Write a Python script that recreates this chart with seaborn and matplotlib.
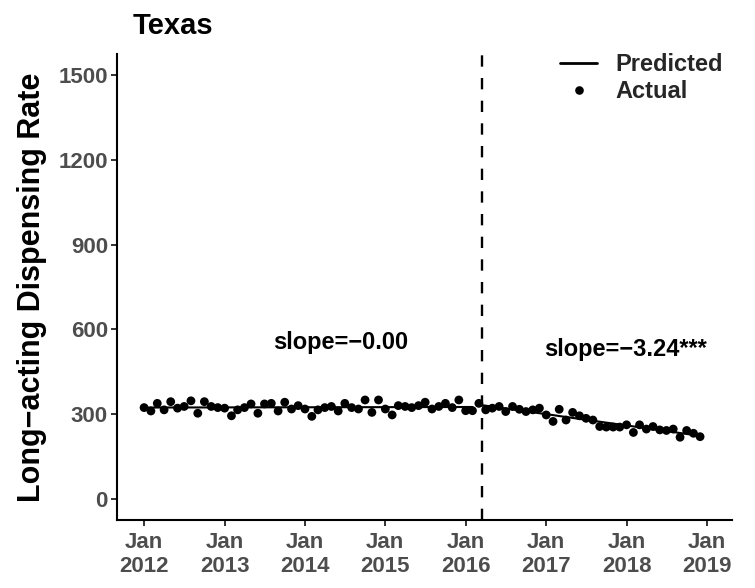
import numpy as np
import pandas as pd
import matplotlib
matplotlib.use("Agg")
import matplotlib.pyplot as plt
import seaborn as sns
from matplotlib.lines import Line2D

# ---------------- data ----------------
state_name = "Texas"
start_month = "2012-01-01"
intervention_date = "2016-03-15"

# monthly actual rates, Jan 2012 - Feb 2016 (pre) and Mar 2016 - Dec 2018 (post)
pre_actual = [
    323, 311, 338, 315, 344, 321, 327, 347, 303, 344, 327, 323,
    321, 294, 315, 323, 336, 303, 336, 338, 311, 342, 318, 330,
    318, 292, 315, 323, 327, 311, 338, 323, 318, 350, 306, 350,
    318, 297, 330, 327, 323, 330, 342, 318, 327, 338, 323, 350,
    312, 312,
]
post_actual = [
    338, 315, 321, 327, 309, 327, 317, 309, 315, 321,
    297, 274, 317, 279, 306, 294, 285, 279, 256, 254, 254, 254,
    262, 235, 262, 247, 256, 244, 242, 247, 218, 242, 232, 220,
]
y_ticks = [0, 300, 600, 900, 1200, 1500]
tick_years = [2012, 2013, 2014, 2015, 2016, 2017, 2018, 2019]
slope_labels = ["slope=\u22120.00", "slope=\u22123.24***"]
legend_labels = ["Predicted", "Actual"]

# ---------------- frame ----------------
n_pre, n_post = len(pre_actual), len(post_actual)
dates = pd.date_range(start_month, periods=n_pre + n_post, freq="MS")
df = pd.DataFrame({
    "date": dates,
    "actual": pre_actual + post_actual,
    "segment": ["pre"] * n_pre + ["post"] * n_post,
    "t": np.arange(n_pre + n_post),
})
pred = np.empty(len(df))
for seg in ["pre", "post"]:
    m = df["segment"] == seg
    coef = np.polyfit(df.loc[m, "t"], df.loc[m, "actual"], 1)
    pred[m.values] = np.polyval(coef, df.loc[m, "t"])
df["predicted"] = pred

# ---------------- style ----------------
sns.set_theme(style="ticks")
plt.rcParams["font.family"] = ["Liberation Sans", "DejaVu Sans"]
plt.rcParams["font.weight"] = "bold"

fig, ax = plt.subplots(figsize=(7.55, 5.88), dpi=100)
fig.subplots_adjust(left=117 / 755, right=732 / 755,
                    bottom=1 - 520 / 588, top=1 - 54 / 588)

sns.scatterplot(data=df, x="date", y="actual", color="black", s=40,
                edgecolor="none", linewidth=0, ax=ax, legend=False, zorder=3)
for seg in ["pre", "post"]:
    sns.lineplot(data=df[df["segment"] == seg], x="date", y="predicted",
                 color="black", linewidth=1.5, ax=ax, legend=False, zorder=4)

ax.axvline(pd.Timestamp(intervention_date), color="black", linewidth=1.7,
           dashes=(4.8, 4.8), zorder=2)

# annotations
ax.text(pd.Timestamp("2014-06-14"), 555, slope_labels[0], ha="center",
        va="center", fontsize=17, fontweight="bold", color="black")
ax.text(pd.Timestamp("2017-12-29"), 529, slope_labels[1], ha="center",
        va="center", fontsize=17, fontweight="bold", color="black")

# axes limits
ax.set_xlim(pd.Timestamp(start_month) - pd.Timedelta(days=123),
            pd.Timestamp("2019-01-01") + pd.Timedelta(days=114))
ax.set_ylim(-75, 1575)

xt = [pd.Timestamp(f"{y}-01-01") for y in tick_years]
ax.set_xticks(xt)
ax.set_xticklabels([f"Jan\n{y}" for y in tick_years])
ax.set_yticks(y_ticks)
ax.set_yticklabels([str(v) for v in y_ticks])

for lbl in ax.get_xticklabels():
    lbl.set_linespacing(1.15)

ax.tick_params(axis="both", which="major", length=4.3, width=1.4,
               color="#333333", labelcolor="#4D4D4D", labelsize=16)
ax.tick_params(axis="x", pad=4.5)
ax.tick_params(axis="y", pad=2.2)
for lbl in ax.get_xticklabels() + ax.get_yticklabels():
    lbl.set_fontweight("bold")

sns.despine(ax=ax)
for sp in ["left", "bottom"]:
    ax.spines[sp].set_linewidth(1.5)
    ax.spines[sp].set_color("black")

ax.set_xlabel("")
ax.set_ylabel("Long\u2212acting Dispensing Rate", fontsize=22,
              fontweight="bold", color="black", labelpad=8)

fig.text(133 / 755, 1 - 34 / 588, state_name, fontsize=21,
         fontweight="bold", ha="left", va="baseline", color="black")

handles = [
    Line2D([], [], color="black", linewidth=2),
    Line2D([], [], color="black", linestyle="none", marker="o",
           markersize=6.2, markeredgewidth=0),
]
leg = fig.legend(handles, legend_labels, loc="upper left",
                 bbox_to_anchor=(560 / 755, 1 - 53 / 588),
                 frameon=False, fontsize=17, handlelength=1.57,
                 handletextpad=0.76, labelspacing=0.18, borderpad=0,
                 borderaxespad=0)
for t in leg.get_texts():
    t.set_fontweight("bold")

fig.savefig("out.png", dpi=100)
